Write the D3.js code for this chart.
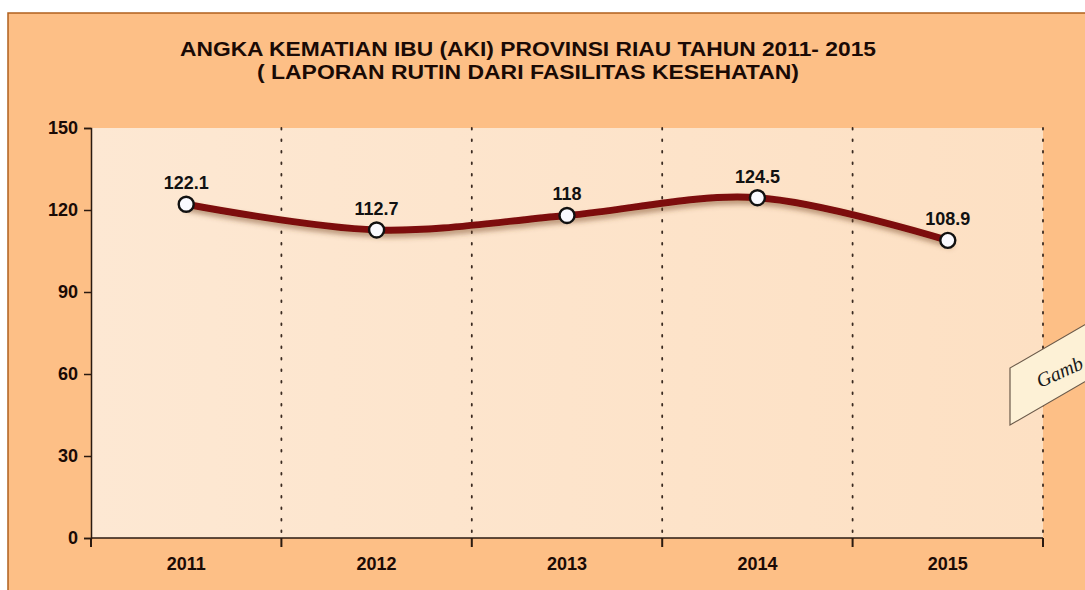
<!DOCTYPE html>
<html>
<head>
<meta charset="utf-8">
<script src="https://cdn.jsdelivr.net/npm/d3@7"></script>
<style>
  body { margin: 0; background: #fff; }
  text { font-family: "Liberation Sans", Arial, sans-serif; }
</style>
</head>
<body>
<svg id="chart" width="1085" height="590"></svg>
<script>
const years = ["2011", "2012", "2013", "2014", "2015"];
const aki = [122.1, 112.7, 118, 124.5, 108.9];
const yTicks = [0, 30, 60, 90, 120, 150];
const titleLines = ["ANGKA KEMATIAN IBU (AKI) PROVINSI RIAU TAHUN 2011- 2015", "( LAPORAN RUTIN DARI FASILITAS KESEHATAN)"];

const svg = d3.select("#chart");
const plot = { left: 91, right: 1043, top: 128, bottom: 538 };

const defs = svg.append("defs");
const shadow = defs.append("filter").attr("id", "shadow")
    .attr("x", "-10%").attr("y", "-50%").attr("width", "120%").attr("height", "200%");
shadow.append("feDropShadow")
    .attr("dx", 2).attr("dy", 4).attr("stdDeviation", 2.5)
    .attr("flood-color", "#7a4a2a").attr("flood-opacity", 0.5);

const bg = defs.append("linearGradient").attr("id", "plotbg")
    .attr("x1", 0).attr("y1", 0).attr("x2", 1).attr("y2", 0);
bg.append("stop").attr("offset", 0).attr("stop-color", "#fde8d3");
bg.append("stop").attr("offset", 1).attr("stop-color", "#fde0c3");

// outer frame
svg.append("rect")
    .attr("x", 8).attr("y", 13).attr("width", 1100).attr("height", 600)
    .attr("fill", "#fdbf86").attr("stroke", "#b0601e").attr("stroke-width", 1.5);

// title (the original font runs wide, so stretch to the measured widths)
const titleWidths = [696, 542];
svg.append("g").selectAll("text")
    .data(titleLines)
    .join("text")
    .attr("x", 528)
    .attr("y", (d, i) => 56 + i * 23)
    .attr("text-anchor", "middle")
    .attr("textLength", (d, i) => titleWidths[i])
    .attr("lengthAdjust", "spacingAndGlyphs")
    .style("font-size", "20px")
    .style("font-weight", "bold")
    .style("fill", "#1a0a05")
    .text(d => d);

const x = d3.scaleBand().domain(years).range([plot.left, plot.right]);
const y = d3.scaleLinear().domain([0, 150]).range([plot.bottom, plot.top]);

// plot background
svg.append("rect")
    .attr("x", plot.left).attr("y", plot.top)
    .attr("width", plot.right - plot.left).attr("height", plot.bottom - plot.top)
    .attr("fill", "url(#plotbg)");

// dotted separators between categories
const bounds = years.slice(1).map(d => x(d)).concat([plot.right]);
svg.append("g").selectAll("line")
    .data(bounds)
    .join("line")
    .attr("x1", d => d).attr("x2", d => d)
    .attr("y1", plot.top).attr("y2", plot.bottom)
    .attr("stroke", "#3a2a20")
    .attr("stroke-width", 1.8)
    .attr("stroke-dasharray", "1.5,10")
    .attr("stroke-linecap", "round");

// y axis
const yAxis = svg.append("g")
    .attr("transform", `translate(${plot.left},0)`)
    .call(d3.axisLeft(y).tickValues(yTicks).tickSize(7).tickPadding(6));
yAxis.select(".domain").attr("stroke", "#2a1a10").attr("stroke-width", 1.5);
yAxis.selectAll(".tick line").attr("stroke", "#2a1a10").attr("stroke-width", 1.5);
yAxis.selectAll(".tick text")
    .style("font-size", "18px").style("font-weight", "bold").style("fill", "#1a0a05")
    .style("font-family", "'Liberation Sans', Arial, sans-serif");

// x axis: ticks at band boundaries, labels centred
const xAxis = svg.append("g").attr("transform", `translate(0,${plot.bottom})`);
xAxis.append("line")
    .attr("x1", plot.left).attr("x2", plot.right)
    .attr("stroke", "#2a1a10").attr("stroke-width", 1.5);
xAxis.selectAll(".tk")
    .data([plot.left].concat(bounds))
    .join("line")
    .attr("class", "tk")
    .attr("x1", d => d).attr("x2", d => d)
    .attr("y1", 0).attr("y2", 9)
    .attr("stroke", "#2a1a10").attr("stroke-width", 2);
xAxis.selectAll(".lbl")
    .data(years)
    .join("text")
    .attr("class", "lbl")
    .attr("x", d => x(d) + x.bandwidth() / 2)
    .attr("y", 32)
    .attr("text-anchor", "middle")
    .style("font-size", "18px").style("font-weight", "bold").style("fill", "#1a0a05")
    .text(d => d);

// line
const pts = years.map((d, i) => ({ year: d, v: aki[i] }));
const line = d3.line()
    .x(d => x(d.year) + x.bandwidth() / 2)
    .y(d => y(d.v))
    .curve(d3.curveCatmullRom.alpha(0.5));

svg.append("path")
    .datum(pts)
    .attr("d", line)
    .attr("fill", "none")
    .attr("stroke", "#7d0b0b")
    .attr("stroke-width", 7)
    .attr("stroke-linecap", "round")
    .attr("filter", "url(#shadow)");

svg.append("g").selectAll("circle")
    .data(pts)
    .join("circle")
    .attr("cx", d => x(d.year) + x.bandwidth() / 2)
    .attr("cy", d => y(d.v))
    .attr("r", 7.5)
    .attr("fill", "#fafaff")
    .attr("stroke", "#111")
    .attr("stroke-width", 2.4);

svg.append("g").selectAll("text")
    .data(pts)
    .join("text")
    .attr("x", d => x(d.year) + x.bandwidth() / 2)
    .attr("y", d => y(d.v) - 15)
    .attr("text-anchor", "middle")
    .style("font-size", "18px").style("font-weight", "bold").style("fill", "#111")
    .text(d => d.v);

// cut-off caption tag on the right edge
const tag = svg.append("g").attr("transform", "translate(1010,368)");
tag.append("path")
    .attr("d", "M0,0 L120,0 L120,57 L0,57 Z")
    .attr("transform", "skewY(-30)")
    .attr("fill", "#fdf1d6")
    .attr("stroke", "#6b5a4a")
    .attr("stroke-width", 1.2);
tag.append("text")
    .attr("transform", "translate(30,20) rotate(-24)")
    .style("font-family", "'Liberation Serif', 'DejaVu Serif', serif")
    .style("font-style", "italic")
    .style("font-size", "20px")
    .style("fill", "#1a1a1a")
    .text("Gamb");
</script>
</body>
</html>
